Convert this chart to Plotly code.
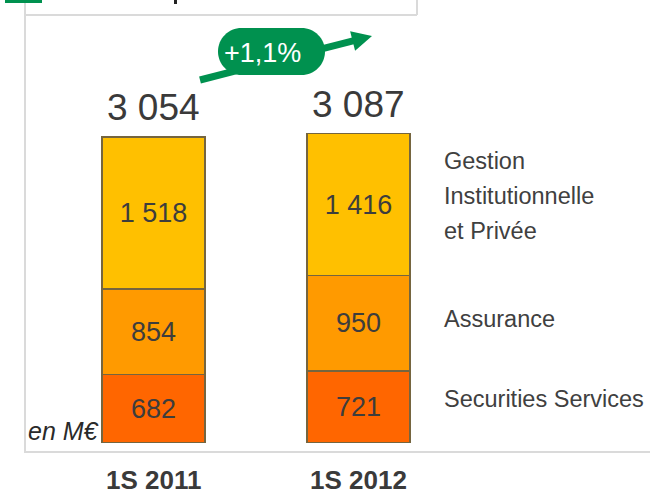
import plotly.graph_objects as go

# ---- data ----
periods = ["1S 2011", "1S 2012"]
securities = [682, 721]
assurance = [854, 950]
gestion = [1518, 1416]
totals = [3054, 3087]
growth_label = "+1,1%"
series_names = ["Securities Services", "Assurance", "Gestion<br>Institutionnelle<br>et Privée"]
unit_label = "en M€"

FONT = "Liberation Sans, Arial, sans-serif"

W, H = 650, 494
PLOT_BOTTOM = 443  # px


def fmt(v):
    return f"{v:,}".replace(",", " ")


def px(x):
    return x / W


def py(y):
    return (PLOT_BOTTOM - y) / PLOT_BOTTOM


colors = ["#FF6600", "#FF9A00", "#FFC000"]
values = [securities, assurance, gestion]
xpos = [0, 1]

fig = go.Figure()
for vals, col, name in zip(values, colors, series_names):
    fig.add_trace(go.Bar(
        x=xpos, y=vals, name=name,
        width=0.5024,
        marker=dict(color=col, line=dict(color="#75653f", width=1.5)),
        text=[fmt(v) for v in vals],
        textposition="inside", insidetextanchor="middle", textangle=0,
        textfont=dict(family=FONT, size=27, color="#3d3d3d"),
        hoverinfo="skip",
    ))

annotations = []
# totals
for xp, t in zip(xpos, totals):
    annotations.append(dict(x=xp, y=t, xref="x", yref="y", text=fmt(t), showarrow=False,
                            yanchor="bottom", yshift=7,
                            font=dict(family=FONT, size=37, color="#3a3a3a")))
# category labels
for xp, p in zip(xpos, periods):
    annotations.append(dict(x=xp, y=py(480), xref="x", yref="paper", text="<b>" + p + "</b>",
                            showarrow=False, yanchor="middle",
                            font=dict(family=FONT, size=26, color="#3a3a3a")))
# series labels on the right (each line placed separately for wider line spacing)
label_y = [399, 319, 196]
LINE_GAP = 35
for name, ly in zip(series_names, label_y):
    lines = name.split("<br>")
    n = len(lines)
    for i, line in enumerate(lines):
        yy = ly + (i - (n - 1) / 2) * LINE_GAP
        annotations.append(dict(x=px(442), y=py(yy), xref="paper", yref="paper", text=line,
                                showarrow=False, xanchor="left", yanchor="middle", align="left",
                                font=dict(family=FONT, size=23.5, color="#404040")))
# unit label
annotations.append(dict(x=px(26), y=py(431), xref="paper", yref="paper", text="<i>" + unit_label + "</i>",
                        showarrow=False, xanchor="left", yanchor="middle",
                        font=dict(family=FONT, size=25, color="#2a2a2a")))
# growth text
annotations.append(dict(x=px(262), y=py(53), xref="paper", yref="paper", text=growth_label,
                        showarrow=False, xanchor="center", yanchor="middle",
                        font=dict(family=FONT, size=27, color="white")))

shapes = []
grey = "#dadada"
# frame lines
shapes.append(dict(type="line", xref="paper", yref="paper", x0=px(26), x1=px(417), y0=py(15), y1=py(15),
                   line=dict(color=grey, width=2)))
shapes.append(dict(type="line", xref="paper", yref="paper", x0=px(417), x1=px(417), y0=py(0), y1=py(15),
                   line=dict(color=grey, width=2)))
shapes.append(dict(type="line", xref="paper", yref="paper", x0=px(25), x1=px(25), y0=py(0), y1=py(452),
                   line=dict(color=grey, width=2)))
shapes.append(dict(type="line", xref="paper", yref="paper", x0=px(24), x1=px(650), y0=py(452), y1=py(452),
                   line=dict(color=grey, width=2)))
# green corner mark and cut-off title glyph
shapes.append(dict(type="rect", xref="paper", yref="paper", x0=px(5), x1=px(42), y0=py(0), y1=py(3),
                   fillcolor="#00914f", line=dict(width=0)))
shapes.append(dict(type="rect", xref="paper", yref="paper", x0=px(174), x1=px(177), y0=py(0), y1=py(4),
                   fillcolor="#222222", line=dict(width=0)))

green = "#00914f"
# arrow line
shapes.append(dict(type="line", xref="paper", yref="paper", x0=px(200), y0=py(80), x1=px(355), y1=py(40.4),
                   line=dict(color=green, width=7)))
# arrow head
tip = (372, 36)
b1 = (355.1, 50.7)
b2 = (350.1, 31.3)
path = f"M {px(tip[0])},{py(tip[1])} L {px(b1[0])},{py(b1[1])} L {px(b2[0])},{py(b2[1])} Z"
shapes.append(dict(type="path", xref="paper", yref="paper", path=path, fillcolor=green, line=dict(width=0)))

# pill
left, right, top, bot = 218, 325, 28, 75
r = (bot - top) / 2
cy = (top + bot) / 2
cx1, cx2 = left + r, right - r
k = 0.5523 * r


def P(x, y):
    return f"{px(x)},{py(y)}"


pill = (f"M {P(cx1, top)} L {P(cx2, top)} "
        f"C {P(cx2 + k, top)} {P(cx2 + r, cy - k)} {P(cx2 + r, cy)} "
        f"C {P(cx2 + r, cy + k)} {P(cx2 + k, bot)} {P(cx2, bot)} "
        f"L {P(cx1, bot)} "
        f"C {P(cx1 - k, bot)} {P(cx1 - r, cy + k)} {P(cx1 - r, cy)} "
        f"C {P(cx1 - r, cy - k)} {P(cx1 - k, top)} {P(cx1, top)} Z")
shapes.append(dict(type="path", xref="paper", yref="paper", path=pill, fillcolor=green, line=dict(width=0)))

ymax = PLOT_BOTTOM / 0.1002
fig.update_layout(
    width=W, height=H,
    margin=dict(l=0, r=0, t=0, b=H - PLOT_BOTTOM, pad=0),
    barmode="stack",
    showlegend=False,
    plot_bgcolor="white", paper_bgcolor="white",
    xaxis=dict(range=[-153.5 / 205, (W - 153.5) / 205], visible=False, fixedrange=True),
    yaxis=dict(range=[0, ymax], visible=False, fixedrange=True),
    annotations=annotations,
    shapes=shapes,
)
fig.write_html("out.html", config={"displayModeBar": False},
               post_script="document.body.style.margin='0';")
